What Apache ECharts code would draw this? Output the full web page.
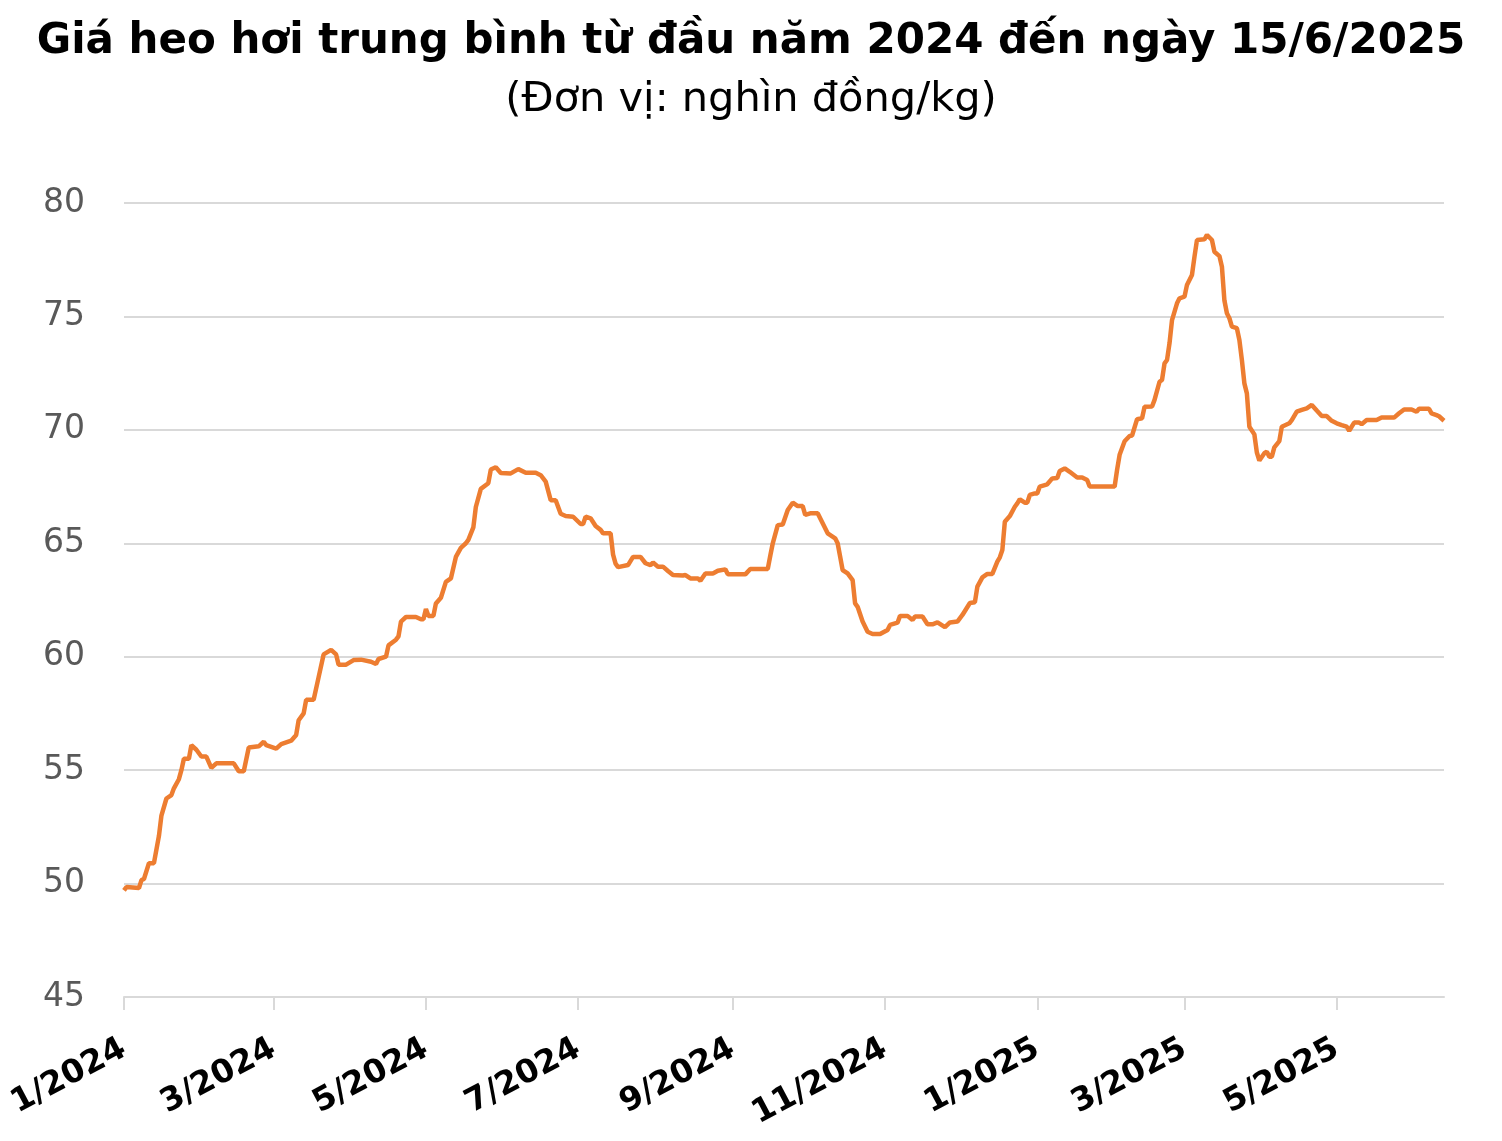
<!DOCTYPE html>
<html>
<head>
    <meta charset="utf-8">
    <title>Giá heo hơi</title>
    <script src="https://cdn.jsdelivr.net/npm/echarts@6/dist/echarts.min.js"></script>
    <style>
        html, body { margin: 0; padding: 0; background: #fff; }
        #chart { width: 1502px; height: 1141px; }
    </style>
</head>
<body>
    <div id="chart"></div>

    <script>
        // ngày lấy mẫu và giá (nghìn đồng/kg)
        var dates = [
            '2024-01-01', '2024-01-02', '2024-01-07', '2024-01-08', '2024-01-09', '2024-01-11', '2024-01-13',
            '2024-01-15', '2024-01-16', '2024-01-18', '2024-01-20', '2024-01-21', '2024-01-23', '2024-01-24',
            '2024-01-25', '2024-01-27', '2024-01-28', '2024-01-30',
            '2024-02-01', '2024-02-03', '2024-02-05', '2024-02-07', '2024-02-14', '2024-02-16', '2024-02-18',
            '2024-02-20', '2024-02-24', '2024-02-26', '2024-02-27',
            '2024-03-02', '2024-03-04', '2024-03-08', '2024-03-10', '2024-03-11', '2024-03-13', '2024-03-14',
            '2024-03-17', '2024-03-19', '2024-03-21', '2024-03-24', '2024-03-26', '2024-03-27', '2024-03-30',
            '2024-04-02', '2024-04-05', '2024-04-09', '2024-04-11', '2024-04-12', '2024-04-15', '2024-04-16',
            '2024-04-19', '2024-04-20', '2024-04-21', '2024-04-23', '2024-04-27', '2024-04-29', '2024-04-30',
            '2024-05-01', '2024-05-02', '2024-05-04', '2024-05-05', '2024-05-07', '2024-05-09', '2024-05-11',
            '2024-05-13', '2024-05-15', '2024-05-17', '2024-05-18', '2024-05-20', '2024-05-21', '2024-05-23',
            '2024-05-26', '2024-05-27', '2024-05-29', '2024-05-31',
            '2024-06-04', '2024-06-07', '2024-06-10', '2024-06-14', '2024-06-16', '2024-06-18', '2024-06-20',
            '2024-06-22', '2024-06-24', '2024-06-26', '2024-06-29',
            '2024-07-02', '2024-07-03', '2024-07-04', '2024-07-06', '2024-07-08', '2024-07-10', '2024-07-11',
            '2024-07-14', '2024-07-15', '2024-07-16', '2024-07-17', '2024-07-21', '2024-07-23', '2024-07-26',
            '2024-07-28', '2024-07-30', '2024-07-31',
            '2024-08-02', '2024-08-04', '2024-08-06', '2024-08-08', '2024-08-12', '2024-08-13', '2024-08-15',
            '2024-08-18', '2024-08-19', '2024-08-21', '2024-08-24', '2024-08-26', '2024-08-29', '2024-08-30',
            '2024-09-06', '2024-09-08', '2024-09-15', '2024-09-16', '2024-09-17', '2024-09-19', '2024-09-21',
            '2024-09-23', '2024-09-25', '2024-09-27', '2024-09-29', '2024-09-30',
            '2024-10-02', '2024-10-05', '2024-10-07', '2024-10-09', '2024-10-12', '2024-10-13', '2024-10-14',
            '2024-10-15', '2024-10-17', '2024-10-19', '2024-10-20', '2024-10-21', '2024-10-23', '2024-10-25',
            '2024-10-27', '2024-10-30',
            '2024-11-02', '2024-11-03', '2024-11-06', '2024-11-07', '2024-11-10', '2024-11-12', '2024-11-13',
            '2024-11-16', '2024-11-18', '2024-11-20', '2024-11-22', '2024-11-25', '2024-11-27', '2024-11-30',
            '2024-12-02', '2024-12-05', '2024-12-07', '2024-12-08', '2024-12-10', '2024-12-12', '2024-12-14',
            '2024-12-16', '2024-12-17', '2024-12-18', '2024-12-19', '2024-12-21', '2024-12-23', '2024-12-24',
            '2024-12-25', '2024-12-27', '2024-12-28', '2024-12-29', '2024-12-31',
            '2025-01-01', '2025-01-02', '2025-01-05', '2025-01-07', '2025-01-09', '2025-01-10', '2025-01-12',
            '2025-01-14', '2025-01-17', '2025-01-19', '2025-01-21', '2025-01-22',
            '2025-02-01', '2025-02-02', '2025-02-03', '2025-02-05', '2025-02-07', '2025-02-08', '2025-02-10',
            '2025-02-12', '2025-02-13', '2025-02-16', '2025-02-17', '2025-02-19', '2025-02-20', '2025-02-21',
            '2025-02-22', '2025-02-23', '2025-02-24', '2025-02-26', '2025-02-27',
            '2025-03-01', '2025-03-02', '2025-03-04', '2025-03-05', '2025-03-06', '2025-03-09', '2025-03-10',
            '2025-03-12', '2025-03-13', '2025-03-15', '2025-03-16', '2025-03-17', '2025-03-18', '2025-03-19',
            '2025-03-20', '2025-03-22', '2025-03-23', '2025-03-24', '2025-03-25', '2025-03-26', '2025-03-27',
            '2025-03-29', '2025-03-30', '2025-03-31',
            '2025-04-02', '2025-04-03', '2025-04-04', '2025-04-05', '2025-04-06', '2025-04-08', '2025-04-09',
            '2025-04-12', '2025-04-13', '2025-04-15', '2025-04-17', '2025-04-19', '2025-04-21', '2025-04-23',
            '2025-04-25', '2025-04-27', '2025-04-29',
            '2025-05-01', '2025-05-03', '2025-05-05', '2025-05-06', '2025-05-08', '2025-05-10', '2025-05-11',
            '2025-05-13', '2025-05-17', '2025-05-19', '2025-05-24', '2025-05-26', '2025-05-28', '2025-05-31',
            '2025-06-02', '2025-06-03', '2025-06-07', '2025-06-08', '2025-06-10', '2025-06-11', '2025-06-13'
        ];

        var prices = [
            49.7, 49.85, 49.8, 50.15, 50.2, 50.9, 50.9,
            52.1, 53.0, 53.75, 53.9, 54.2, 54.6, 55.0,
            55.5, 55.5, 56.1, 55.9,
            55.6, 55.6, 55.1, 55.3, 55.3, 54.95, 54.95,
            56.0, 56.05, 56.25, 56.1,
            55.95, 56.15, 56.3, 56.55, 57.2, 57.5, 58.1,
            58.1, 59.1, 60.1, 60.3, 60.1, 59.65, 59.65,
            59.85, 59.87, 59.78, 59.68, 59.9, 60.0, 60.5,
            60.75, 60.9, 61.55, 61.75, 61.75, 61.65, 61.65,
            62.1, 61.8, 61.8, 62.35, 62.6, 63.3, 63.45,
            64.4, 64.8, 65.0, 65.15, 65.7, 66.6, 67.4,
            67.65, 68.25, 68.35, 68.1,
            68.08, 68.27, 68.11, 68.11, 68.0, 67.72, 66.9,
            66.9, 66.3, 66.2, 66.17,
            65.85, 65.85, 66.17, 66.1, 65.76, 65.59, 65.44,
            65.44, 64.5, 64.1, 63.95, 64.04, 64.4, 64.4,
            64.12, 64.04, 64.15,
            63.97, 63.97, 63.78, 63.6, 63.58, 63.6, 63.45,
            63.45, 63.35, 63.67, 63.67, 63.79, 63.85, 63.63,
            63.63, 63.87, 63.87, 64.45, 65.0, 65.8, 65.83,
            66.47, 66.79, 66.64, 66.64, 66.25,
            66.32, 66.32, 65.88, 65.44, 65.22, 65.0, 64.41,
            63.82, 63.67, 63.38, 62.35, 62.2, 61.55, 61.1,
            61.0, 61.0,
            61.18, 61.4, 61.5, 61.8, 61.8, 61.62, 61.77,
            61.77, 61.43, 61.43, 61.51, 61.3, 61.51, 61.55,
            61.84, 62.37, 62.4, 63.09, 63.5, 63.65, 63.65,
            64.19, 64.38, 64.7, 65.95, 66.2, 66.61, 66.76,
            66.94, 66.79, 66.79, 67.13, 67.2,
            67.2, 67.5, 67.6, 67.86, 67.88, 68.19, 68.3,
            68.15, 67.9, 67.9, 67.79, 67.5,
            67.5, 68.25, 68.9, 69.5, 69.73, 69.75, 70.47,
            70.51, 71.02, 71.03, 71.32, 72.12, 72.2, 72.93,
            73.08, 73.82, 74.84, 75.58, 75.8,
            75.87, 76.39, 76.83, 77.63, 78.37, 78.4, 78.59,
            78.37, 77.85, 77.66, 77.19, 75.7, 75.14, 74.92,
            74.55, 74.48, 73.96, 73.08, 72.05, 71.61, 70.14,
            69.8, 69.0, 68.65,
            68.97, 69.04, 68.82, 68.82, 69.23, 69.5, 70.14,
            70.29, 70.43, 70.8, 70.88, 70.95, 71.1, 70.85,
            70.61, 70.61, 70.4,
            70.29, 70.21, 70.14, 69.96, 70.32, 70.32, 70.25,
            70.43, 70.43, 70.54, 70.54, 70.73, 70.9, 70.9,
            70.8, 70.93, 70.93, 70.73, 70.65, 70.6, 70.4
        ];

        // mốc trục hoành: đầu mỗi hai tháng
        var tickDates = ['2024-01-01', '2024-03-01', '2024-05-01', '2024-07-01', '2024-09-01',
                         '2024-11-01', '2025-01-01', '2025-03-01', '2025-05-01'];
        var tickLabels = ['1/2024', '3/2024', '5/2024', '7/2024', '9/2024',
                          '11/2024', '1/2025', '3/2025', '5/2025'];

        function toTime(s) {
            var p = s.split('-');
            return new Date(+p[0], +p[1] - 1, +p[2]).getTime();
        }

        var tickValues = tickDates.map(toTime);
        var seriesData = dates.map(function (d, i) { return [toTime(d), prices[i]]; });

        var chart = echarts.init(document.getElementById('chart'));
        var font = 'DejaVu Sans';

        var option = {
            backgroundColor: '#fff',
            animation: false,
            title: {
                text: 'Giá heo hơi trung bình từ đầu năm 2024 đến ngày 15/6/2025',
                subtext: '(Đơn vị: nghìn đồng/kg)',
                left: 'center',
                top: 12,
                itemGap: 8,
                textStyle: {
                    fontFamily: font,
                    fontSize: 42,
                    fontWeight: 'bold',
                    color: '#000',
                    lineHeight: 50
                },
                subtextStyle: {
                    fontFamily: font,
                    fontSize: 41.5,
                    color: '#000',
                    lineHeight: 50
                }
            },
            grid: {
                left: 124,
                right: 58,
                top: 203,
                bottom: 144
            },
            // trục thời gian dựng bằng trục số (mốc thời gian tính bằng ms)
            xAxis: {
                type: 'value',
                min: toTime('2024-01-01'),
                max: toTime(dates[dates.length - 1]),
                axisLine: { show: true, lineStyle: { color: '#d9d9d9', width: 2 } },
                axisTick: {
                    show: true,
                    customValues: tickValues,
                    length: 13,
                    lineStyle: { color: '#d9d9d9', width: 2 }
                },
                axisLabel: {
                    customValues: tickValues,
                    rotate: 28,
                    margin: 50,
                    fontFamily: font,
                    fontSize: 32.5,
                    fontWeight: 'bold',
                    color: '#000',
                    formatter: function (val) {
                        var i = tickValues.indexOf(val);
                        return i >= 0 ? tickLabels[i] : '';
                    }
                },
                splitLine: { show: false }
            },
            yAxis: {
                type: 'value',
                min: 45,
                max: 80,
                interval: 5,
                axisLine: { show: false },
                axisTick: { show: false },
                axisLabel: {
                    margin: 39,
                    fontFamily: font,
                    fontSize: 33,
                    color: '#595959'
                },
                splitLine: { lineStyle: { color: '#d9d9d9', width: 2 } }
            },
            series: [
                {
                    name: 'Giá heo hơi',
                    type: 'line',
                    data: seriesData,
                    symbol: 'none',
                    smooth: false,
                    lineStyle: { color: '#ED7D31', width: 4.5 }
                }
            ]
        };

        chart.setOption(option);
    </script>
</body>
</html>
